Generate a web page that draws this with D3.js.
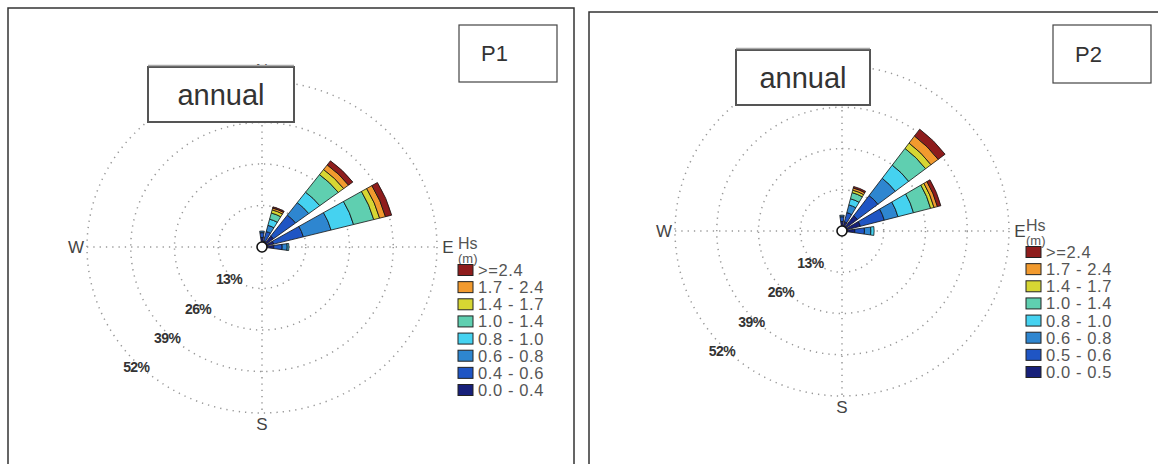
<!DOCTYPE html>
<html>
<head>
<meta charset="utf-8">
<script src="https://cdn.jsdelivr.net/npm/d3@7"></script>
<style>
  body { margin: 0; background: #fff; }
  text { font-family: Arial, "Liberation Sans", sans-serif; }
</style>
</head>
<body>
<svg width="1158" height="464"></svg>
<script>
// wave directions (deg, clockwise from N) that carry any frequency
const directions = [0, 22.5, 45, 67.5, 90];
const ringTicks = [13, 26, 39, 52];
const ringLabels = ["13%", "26%", "39%", "52%"];
const compass = ["N", "E", "S", "W"];

// Hs classes, low -> high
const classColors = ["#17207a", "#1f55c4", "#2e86d0", "#45d2f0", "#5fcfb0", "#d6d633", "#f29a2e", "#8e1c1c"];
const classesP1 = ["0.0 - 0.4", "0.4 - 0.6", "0.6 - 0.8", "0.8 - 1.0", "1.0 - 1.4", "1.4 - 1.7", "1.7 - 2.4", ">=2.4"];
const classesP2 = ["0.0 - 0.5", "0.5 - 0.6", "0.6 - 0.8", "0.8 - 1.0", "1.0 - 1.4", "1.4 - 1.7", "1.7 - 2.4", ">=2.4"];

// frequency (%) of each Hs class per direction
const freqP1 = [
  [3.0, 1.5, 0.5, 0, 0, 0, 0, 0],
  [2.0, 3.0, 2.0, 2.0, 2.0, 1.0, 0.6, 0.4],
  [4.3, 8.2, 4.9, 4.1, 6.9, 2.0, 1.8, 1.6],
  [3.6, 9.1, 8.5, 6.9, 6.2, 1.8, 1.8, 1.9],
  [3.5, 2.5, 1.5, 0.5, 0, 0, 0, 0]
];
const freqP2 = [
  [3.0, 1.5, 0.5, 0, 0, 0, 0, 0],
  [3.0, 3.0, 2.5, 2.0, 2.0, 0.8, 0.7, 0.5],
  [6.0, 8.0, 6.8, 5.2, 6.6, 2.1, 2.8, 2.7],
  [5.9, 7.7, 4.4, 5.0, 5.5, 1.1, 1.1, 1.1],
  [4.0, 3.0, 2.0, 1.0, 0, 0, 0, 0]
];

const svg = d3.select("svg");

const panels = [
  { name: "P1", freq: freqP1, classes: classesP1,
    frame: [8, 8, 566, 480], cx: 262, cy: 247, rx: 175, ry: 166,
    title: [148, 67, 146, 55], tag: [459, 25, 98, 57],
    legX: 458, legY: 270 },
  { name: "P2", freq: freqP2, classes: classesP2,
    frame: [589, 12, 600, 480], cx: 842, cy: 231, rx: 167, ry: 165,
    title: [736, 50, 134, 55], tag: [1053, 25, 98, 58],
    legX: 1026, legY: 252 }
];

const petalWidth = 16 * Math.PI / 180;

panels.forEach(p => {
  const g = svg.append("g");

  g.append("rect")
    .attr("x", p.frame[0]).attr("y", p.frame[1])
    .attr("width", p.frame[2]).attr("height", p.frame[3])
    .attr("fill", "none").attr("stroke", "#333").attr("stroke-width", 1.5);

  const r = d3.scaleLinear().domain([0, 52]).range([0, p.ry]);
  const sx = p.rx / p.ry;

  // polar group, stretched horizontally like the source image
  const polar = g.append("g")
    .attr("transform", `translate(${p.cx},${p.cy}) scale(${sx},1)`);

  polar.selectAll("circle.ring")
    .data(ringTicks)
    .join("circle")
    .attr("class", "ring")
    .attr("r", d => r(d))
    .attr("fill", "none")
    .attr("stroke", "#999")
    .attr("stroke-width", 1.5)
    .attr("stroke-dasharray", "1.3,5")
    .attr("vector-effect", "non-scaling-stroke");

  polar.selectAll("line.axis")
    .data([[-1, 0, 1, 0], [0, -1, 0, 1]])
    .join("line")
    .attr("x1", d => d[0] * r(52)).attr("y1", d => d[1] * r(52))
    .attr("x2", d => d[2] * r(52)).attr("y2", d => d[3] * r(52))
    .attr("stroke", "#999")
    .attr("stroke-width", 1.5)
    .attr("stroke-dasharray", "1.3,5")
    .attr("vector-effect", "non-scaling-stroke");

  const arc = d3.arc();
  const segs = [];
  directions.forEach((dir, i) => {
    const cum = [0, ...d3.cumsum(p.freq[i])];
    const a = dir * Math.PI / 180;
    p.freq[i].forEach((v, k) => {
      if (v <= 0) return;
      segs.push({
        k,
        path: arc({
          innerRadius: r(cum[k]), outerRadius: r(cum[k + 1]),
          startAngle: a - petalWidth / 2, endAngle: a + petalWidth / 2
        })
      });
    });
  });

  polar.selectAll("path.seg")
    .data(segs)
    .join("path")
    .attr("class", "seg")
    .attr("d", d => d.path)
    .attr("fill", d => classColors[d.k])
    .attr("stroke", "#111")
    .attr("stroke-width", 0.8)
    .attr("vector-effect", "non-scaling-stroke");

  polar.append("circle")
    .attr("r", 5)
    .attr("transform", `scale(${1 / sx},1)`)
    .attr("fill", "#fff")
    .attr("stroke", "#111")
    .attr("stroke-width", 1.6);

  // compass letters
  const off = [[0, -1], [1, 0], [0, 1], [-1, 0]];
  g.selectAll("text.dir")
    .data(compass)
    .join("text")
    .attr("class", "dir")
    .attr("x", (d, i) => p.cx + off[i][0] * (p.rx + 11))
    .attr("y", (d, i) => p.cy + off[i][1] * (p.ry + 11))
    .attr("dy", "0.36em")
    .attr("text-anchor", "middle")
    .attr("font-size", 17)
    .attr("fill", "#444")
    .text(d => d);

  // ring labels along SW
  g.selectAll("text.ringlab")
    .data(ringTicks)
    .join("text")
    .attr("class", "ringlab")
    .attr("x", d => p.cx - Math.SQRT1_2 * r(d) * sx - 2)
    .attr("y", d => p.cy + Math.SQRT1_2 * r(d) + 3)
    .attr("dy", "0.36em")
    .attr("text-anchor", "middle")
    .attr("font-size", 14)
    .attr("font-weight", "bold")
    .attr("letter-spacing", -0.6)
    .attr("fill", "#333")
    .text((d, i) => ringLabels[i]);

  // title box over the N label
  g.append("rect")
    .attr("x", p.title[0]).attr("y", p.title[1])
    .attr("width", p.title[2]).attr("height", p.title[3])
    .attr("fill", "#fff").attr("stroke", "#555").attr("stroke-width", 2);
  g.append("line")
    .attr("x1", p.title[0]).attr("x2", p.title[0] + p.title[2])
    .attr("y1", p.title[1] - 1.5).attr("y2", p.title[1] - 1.5)
    .attr("stroke", "#aaa").attr("stroke-width", 1.5);
  g.append("text")
    .attr("x", p.title[0] + p.title[2] / 2)
    .attr("y", p.title[1] + p.title[3] / 2)
    .attr("dy", "0.36em")
    .attr("text-anchor", "middle")
    .attr("font-size", 29)
    .attr("fill", "#333")
    .text("annual");

  // panel tag
  g.append("rect")
    .attr("x", p.tag[0]).attr("y", p.tag[1])
    .attr("width", p.tag[2]).attr("height", p.tag[3])
    .attr("fill", "#fff").attr("stroke", "#444").attr("stroke-width", 1.2);
  g.append("text")
    .attr("x", p.tag[0] + 22)
    .attr("y", p.tag[1] + p.tag[3] / 2)
    .attr("dy", "0.36em")
    .attr("font-size", 22)
    .attr("fill", "#333")
    .text(p.name);

  // legend
  const leg = g.append("g");
  leg.append("text")
    .attr("x", p.legX).attr("y", p.legY - 21)
    .attr("font-size", 16).attr("fill", "#555")
    .text("Hs");
  leg.append("text")
    .attr("x", p.legX).attr("y", p.legY - 7.5)
    .attr("font-size", 13).attr("fill", "#555")
    .text("(m)");

  const rows = d3.range(classColors.length).reverse();
  const ly = d3.scaleLinear().domain([0, 7]).range([p.legY, p.legY + 120]);
  const item = leg.selectAll("g.item")
    .data(rows)
    .join("g")
    .attr("class", "item")
    .attr("transform", (d, i) => `translate(${p.legX},${ly(i)})`);
  item.append("rect")
    .attr("x", 0).attr("y", -5.5)
    .attr("width", 15).attr("height", 11)
    .attr("fill", d => classColors[d])
    .attr("stroke", "#222").attr("stroke-width", 1);
  item.append("text")
    .attr("x", 20).attr("dy", "0.36em")
    .attr("font-size", 16.5)
    .attr("letter-spacing", 0.6)
    .attr("fill", "#555")
    .text(d => p.classes[d]);
});
</script>
</body>
</html>
